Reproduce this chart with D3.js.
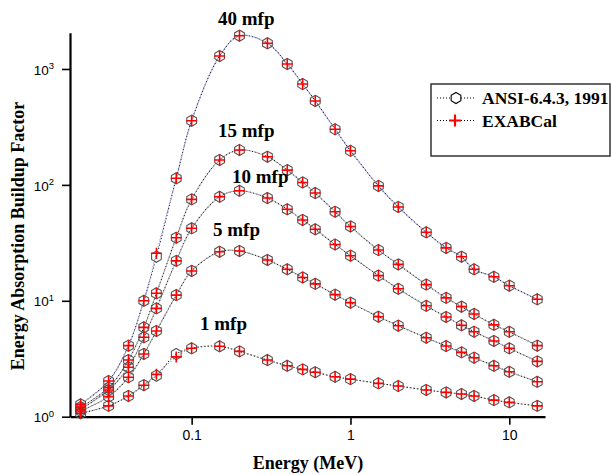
<!DOCTYPE html>
<meta charset="utf-8">
<body style="margin:0;background:#fff">
<div id="chart"></div>
</body>
<style>
	body { font-family: "Liberation Sans", Arial, sans-serif; }
	.lbl { font-family: "Liberation Serif", "Times New Roman", serif; font-weight: bold; }
</style>
<script src="https://cdn.jsdelivr.net/npm/d3@7/dist/d3.min.js"></script>
<script>

// photon energies (MeV)
var energy = [0.02, 0.03, 0.04, 0.05, 0.06, 0.08, 0.1, 0.15, 0.2, 0.3, 0.4, 0.5,
	0.6, 0.8, 1, 1.5, 2, 3, 4, 5, 6, 8, 10, 15];

// ANSI-6.4.3 buildup factors, one array per depth
var ansi1 = [1.07, 1.24, 1.51, 1.87, 2.26, 3.47, 3.89, 4.05, 3.66, 3.08, 2.75, 2.56,
	2.42, 2.21, 2.11, 1.94, 1.84, 1.70, 1.62, 1.57, 1.51, 1.39, 1.33, 1.24];
var ansi5 = [1.12, 1.49, 2.19, 3.48, 5.49, 11.2, 18.1, 26.5, 26.9, 22.5, 18.7, 15.9,
	14.0, 11.3, 9.63, 7.29, 6.1, 4.8, 4.07, 3.59, 3.23, 2.75, 2.44, 2.0];
var ansi10 = [1.16, 1.70, 2.67, 4.84, 8.6, 22.1, 42.2, 79, 89, 77, 61.6, 49.8,
	41.4, 30.6, 24.5, 16.5, 12.7, 9.05, 7.25, 6.15, 5.41, 4.5, 3.89, 3.0];
var ansi15 = [1.21, 1.78, 3.08, 5.9, 11.6, 35, 75, 164, 200, 175, 134, 105,
	85, 58.7, 43.8, 27.4, 20.6, 13.8, 10.6, 8.9, 7.7, 6.2, 5.4, 4.1];
var ansi40 = [1.28, 2.03, 4.1, 10.0, 24.0, 114, 358, 1294, 1937, 1667, 1105, 742,
	530, 302, 197, 98, 64.5, 39, 28.6, 24, 18.7, 16.1, 13.5, 10.3];

// EXABCal results
var exab1 = [1.07, 1.24, 1.51, 1.87, 2.32, 3.28, 3.89, 4.05, 3.66, 3.08, 2.75, 2.56,
	2.42, 2.21, 2.11, 1.94, 1.84, 1.70, 1.62, 1.57, 1.51, 1.39, 1.33, 1.24];
var exab5 = [1.12, 1.49, 2.19, 3.48, 5.49, 11.2, 18.1, 26.5, 26.9, 22.5, 18.7, 15.9,
	14.0, 11.3, 9.63, 7.29, 6.1, 4.8, 4.07, 3.59, 3.23, 2.75, 2.44, 2.0];
var exab10 = [1.16, 1.70, 2.67, 4.84, 8.6, 22.1, 42.2, 79, 89, 77, 61.6, 49.8,
	41.4, 30.6, 24.5, 16.5, 12.7, 9.05, 7.25, 6.15, 5.41, 4.5, 3.89, 3.0];
var exab15 = [1.21, 1.78, 3.08, 5.9, 11.6, 35, 75, 164, 200, 175, 134, 105,
	85, 58.7, 43.8, 27.4, 20.6, 13.8, 10.6, 8.9, 7.7, 6.2, 5.4, 4.1];
var exab40 = [1.28, 2.03, 4.1, 10.0, 25.7, 114, 358, 1294, 1937, 1667, 1105, 742,
	530, 302, 197, 98, 64.5, 39, 28.6, 24, 18.7, 16.1, 13.5, 10.3];

var depthLabels = ["1 mfp", "5 mfp", "10 mfp", "15 mfp", "40 mfp"];
var legendNames = ["ANSI-6.4.3, 1991", "EXABCal"];
var xMajor = [0.1, 1, 10];
var yMajor = [1, 10, 100, 1000];

var ansiSets = [ansi1, ansi5, ansi10, ansi15, ansi40];
var exabSets = [exab1, exab5, exab10, exab15, exab40];

var width = 612,
	height = 475;

var svg = d3.select("#chart").append("svg")
	.attr("width", width)
	.attr("height", height);

var x = d3.scaleLog().domain([0.01714, 16.78]).range([70, 545]);
var y = d3.scaleLog().domain([1, 2056]).range([416.7, 32.7]);

// minor tick values between decades
function minorTicks(lo, hi) {
	var out = [];
	for (var p = -2; p <= 3; p++) {
		for (var m = 2; m <= 9; m++) {
			var v = m * Math.pow(10, p);
			if (v >= lo && v <= hi) out.push(v);
		}
	}
	return out;
}

/*
 * Axes: thick left and bottom lines, outward ticks.
 */
var gx = svg.append("g").attr("transform", "translate(0," + y(1) + ")");
gx.call(d3.axisBottom(x).tickValues(minorTicks(0.01714, 16.78))
	.tickSize(5).tickSizeOuter(0).tickFormat(""));
gx.call(d3.axisBottom(x).tickValues(xMajor)
	.tickSize(8).tickPadding(5).tickSizeOuter(0).tickFormat(d3.format("")));

var gy = svg.append("g").attr("transform", "translate(" + x(0.01714) + ",0)");
gy.call(d3.axisLeft(y).tickValues(minorTicks(1, 2056))
	.tickSize(5).tickSizeOuter(0).tickFormat(""));
gy.call(d3.axisLeft(y).tickValues(yMajor)
	.tickSize(8).tickPadding(8).tickSizeOuter(0).tickFormat(""));

svg.selectAll(".domain").attr("stroke-width", 2.2).attr("stroke", "#000");
svg.selectAll(".tick line").attr("stroke-width", 1.6).attr("stroke", "#000");
gx.selectAll(".tick text").attr("font-size", 14).attr("fill", "#000")
	.attr("font-family", "Liberation Sans, Arial, sans-serif");

// y labels: 10 with superscript exponent
gy.selectAll(".tick").filter(function (d) { return yMajor.indexOf(d) >= 0; })
	.each(function (d) {
		var t = d3.select(this).select("text")
			.attr("font-size", 13.5).attr("fill", "#000").attr("dy", "0.38em")
			.attr("font-family", "Liberation Sans, Arial, sans-serif");
		t.text(null);
		t.append("tspan").text("10");
		t.append("tspan").attr("font-size", 9.5).attr("dy", "-0.55em")
			.text(Math.round(Math.log10(d)));
	});

/*
 * Curves: two dotted splines per depth, one per data set.
 */
var line = d3.line()
	.x(function (d) { return x(d[0]); })
	.y(function (d) { return y(d[1]); })
	.curve(d3.curveCatmullRom.alpha(0.5));

function pairs(vals) {
	return energy.map(function (e, i) { return [e, vals[i]]; });
}

var lightColors = ["#9a9a9a", "#9a9a9a", "#9a9aa8", "#9a9aa8", "#8f8fc4"];

exabSets.forEach(function (vals, k) {
	svg.append("path")
		.attr("d", line(pairs(vals)))
		.attr("fill", "none")
		.attr("stroke", lightColors[k])
		.attr("stroke-width", 1.1)
		.attr("stroke-dasharray", "1.2,2.2");
});
ansiSets.forEach(function (vals, k) {
	svg.append("path")
		.attr("d", line(pairs(vals)))
		.attr("fill", "none")
		.attr("stroke", k == 4 ? "#1a1a5a" : "#222")
		.attr("stroke-width", 1.1)
		.attr("stroke-dasharray", "1.2,2.2")
		.attr("stroke-dashoffset", 1.7);
});

// hexagon path with points top and bottom
function hexPath(r) {
	var pts = d3.range(6).map(function (i) {
		var a = Math.PI / 180 * (-90 + 60 * i);
		return [r * Math.cos(a), r * Math.sin(a)];
	});
	return "M" + pts.join("L") + "Z";
}

ansiSets.forEach(function (vals) {
	svg.append("g").selectAll("path")
		.data(pairs(vals))
		.enter().append("path")
		.attr("transform", function (d) {
			return "translate(" + x(d[0]) + "," + y(d[1]) + ")";
		})
		.attr("d", hexPath(5.6))
		.attr("fill", "none")
		.attr("stroke", "#555")
		.attr("stroke-width", 1.1);
});

exabSets.forEach(function (vals) {
	svg.append("g").selectAll("path")
		.data(pairs(vals))
		.enter().append("path")
		.attr("transform", function (d) {
			return "translate(" + x(d[0]) + "," + y(d[1]) + ")";
		})
		.attr("d", "M-5.5,0H5.5M0,-5.5V5.5")
		.attr("stroke", "#ff0000")
		.attr("stroke-width", 1.6);
});

// depth labels
var labelPos = [[200, 330], [213, 235.5], [232, 183], [218, 137], [218, 24.5]];
depthLabels.forEach(function (txt, i) {
	svg.append("text").attr("class", "lbl")
		.attr("x", labelPos[i][0]).attr("y", labelPos[i][1])
		.attr("font-size", 19)
		.text(txt);
});

// axis titles
svg.append("text").attr("class", "lbl")
	.attr("x", 308).attr("y", 469)
	.attr("text-anchor", "middle")
	.attr("font-size", 18)
	.text("Energy (MeV)");

svg.append("text").attr("class", "lbl")
	.attr("transform", "translate(24,236) rotate(-90)")
	.attr("text-anchor", "middle")
	.attr("font-size", 18)
	.text("Energy Absorption Buildup Factor");

/*
 * Legend box.
 */
var lg = svg.append("g");
lg.append("rect")
	.attr("x", 431).attr("y", 84)
	.attr("width", 179).attr("height", 72)
	.attr("fill", "#fff")
	.attr("stroke", "#333")
	.attr("stroke-width", 1.5);

legendNames.forEach(function (name, i) {
	var cy = 98 + i * 22.5;
	lg.append("line")
		.attr("x1", 437).attr("x2", 474)
		.attr("y1", cy).attr("y2", cy)
		.attr("stroke", "#000")
		.attr("stroke-width", 1)
		.attr("stroke-dasharray", "1,2");
	if (i == 0) {
		lg.append("path")
			.attr("transform", "translate(456," + cy + ")")
			.attr("d", hexPath(5.6))
			.attr("fill", "#fff")
			.attr("stroke", "#000")
			.attr("stroke-width", 1.1);
	} else {
		lg.append("path")
			.attr("transform", "translate(455," + cy + ")")
			.attr("d", "M-6,0H6M0,-6V6")
			.attr("stroke", "#ff0000")
			.attr("stroke-width", 2.2);
	}
	lg.append("text").attr("class", "lbl")
		.attr("x", 482).attr("y", cy + 6)
		.attr("font-size", 17.5)
		.text(name);
});
</script>
